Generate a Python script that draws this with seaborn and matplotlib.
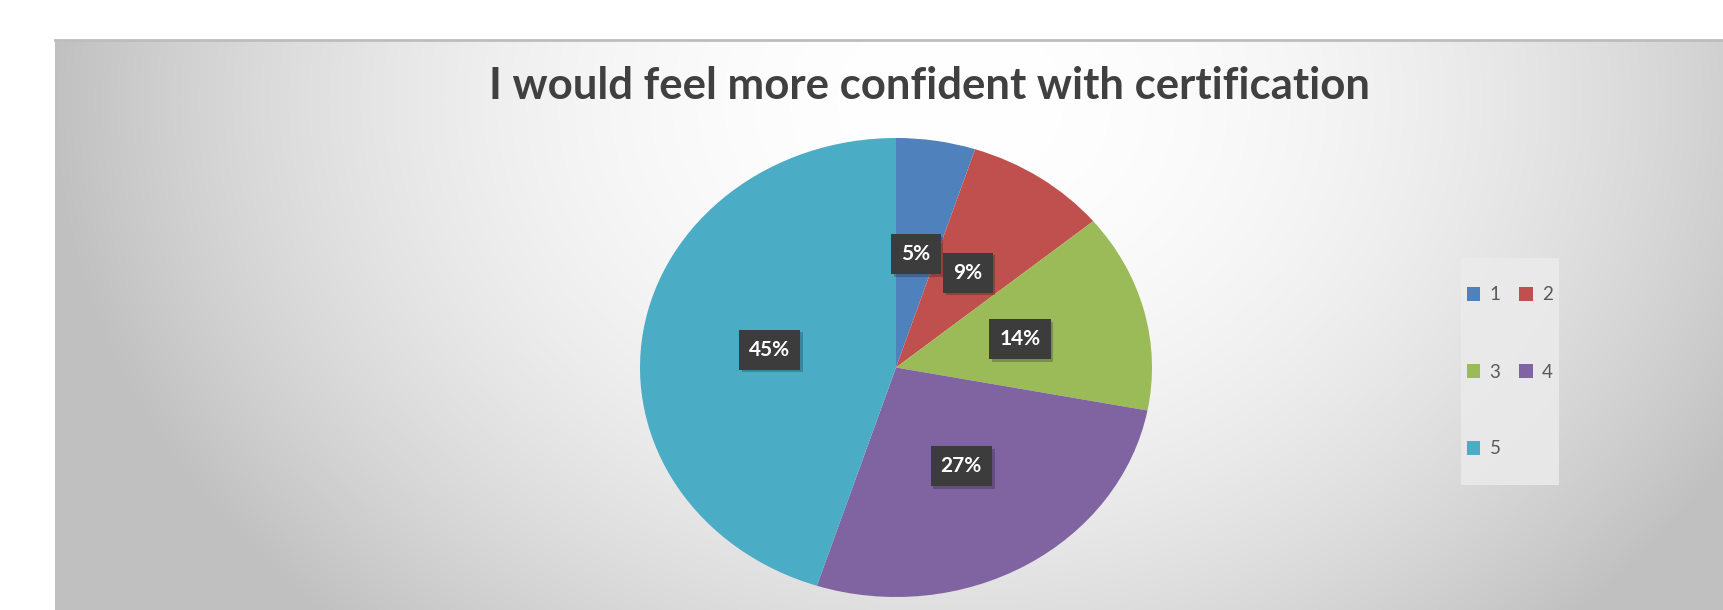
import numpy as np
import seaborn as sns
import matplotlib.pyplot as plt
import matplotlib.patheffects as pe
from matplotlib.patches import Patch, Rectangle

# chart data
categories = ['1', '2', '3', '4', '5']
shares = [5, 9, 14, 27, 45]
colors = ['#4F81BD', '#C0504D', '#9BBB59', '#8064A2', '#4BACC6']
title = 'I would feel more confident with certification'

sns.set_theme(style='white')
plt.rcParams['font.family'] = ['Lato', 'DejaVu Sans']

W, H = 1723, 610
fig = plt.figure(figsize=(W / 100, H / 100), dpi=100)

# gray radial-ish background of the chart area
bg = fig.add_axes([55 / W, 0, 1 - 55 / W, (H - 40) / H])
xx, yy = np.meshgrid(np.arange(55, W), np.arange(40, H))
d2 = ((xx - 950) / 900.0) ** 2 + ((yy - 100) / 720.0) ** 2
val = (255 - 63 * np.minimum(d2, 1.0)) / 255.0
bg.imshow(np.dstack([val, val, val]), aspect='auto', interpolation='bilinear')
bg.set_xticks([])
bg.set_yticks([])
for s in bg.spines.values():
    s.set_visible(False)
bg.spines['top'].set_visible(True)
bg.spines['top'].set_color('#BDBDBD')
bg.spines['top'].set_linewidth(2)

# pie (slightly elliptical like the original)
ax = fig.add_axes([640 / W, 13 / H, 512 / W, 459 / H])
wedges, texts, autotexts = ax.pie(
    shares, colors=colors, startangle=90, counterclock=False,
    autopct='%1.0f%%', pctdistance=0.5,
    wedgeprops=dict(linewidth=0),
    textprops=dict(color='white', fontsize=15, fontweight='bold'))
ax.set_aspect('auto')
ax.set_xlim(-1, 1)
ax.set_ylim(-1, 1)
ax.axis('off')

for t in autotexts:
    t.set_bbox(dict(boxstyle='square,pad=0.48', facecolor='#3C3C3C', edgecolor='none'))
    t.get_bbox_patch().set_path_effects([
        pe.SimplePatchShadow(offset=(2, -2), shadow_rgbFace='black', alpha=0.22),
        pe.Normal()])

fig.text(929 / W, (H - 99) / H, title, ha='center', va='baseline',
         fontsize=31.5, fontweight='bold', color='#404040')

# legend box and entries laid out row by row: 1 2 / 3 4 / 5
fig.patches.append(Rectangle((1461 / W, (H - 485) / H), 98 / W, 227 / H,
                             transform=fig.transFigure, facecolor='#EBEBEB',
                             edgecolor='none', alpha=0.85, zorder=1))
handles = [Patch(facecolor=c, edgecolor='none', label=l) for c, l in zip(colors, categories)]
order = [0, 2, 4, 1, 3]
leg = fig.legend([handles[i] for i in order], [categories[i] for i in order],
                 ncol=2, loc='center', bbox_to_anchor=(1510 / W, (H - 372) / H),
                 frameon=False, fontsize=13.5, labelspacing=3.2, columnspacing=1.0,
                 handlelength=0.7, handleheight=0.7, handletextpad=0.5)
for t in leg.get_texts():
    t.set_color('#595959')

fig.savefig('out.png', dpi=100)
